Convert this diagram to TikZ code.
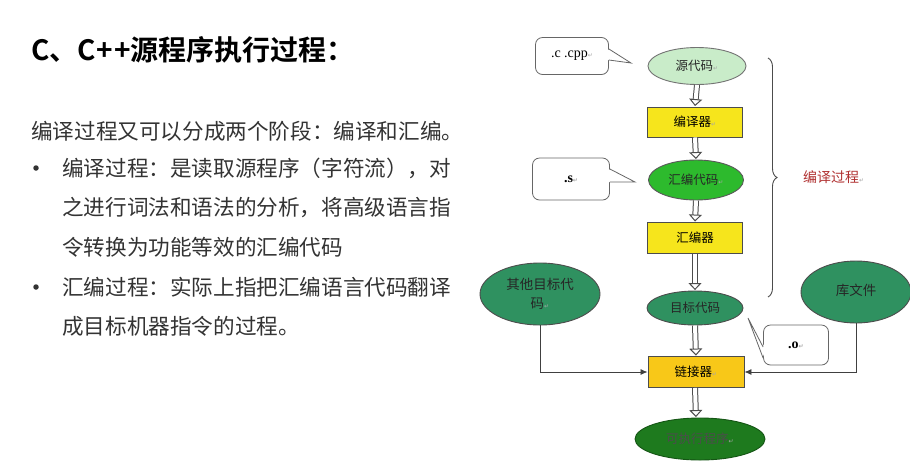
\documentclass[tikz,border=0pt]{standalone}
\usepackage{fontspec}
\newfontfamily\cjk{Noto Sans CJK SC}[BoldFont={Noto Sans CJK SC Bold}]
\newfontfamily\serifx{Liberation Serif}
\newfontfamily\dvs{DejaVu Sans}
\usetikzlibrary{shapes.geometric,arrows.meta,decorations.pathreplacing}
\definecolor{lgreen}{HTML}{C9ECC9}
\definecolor{bgreen}{HTML}{2DBA2D}
\definecolor{sgreen}{HTML}{2F9160}
\definecolor{dgreen}{HTML}{1E7A1E}
\definecolor{yel}{HTML}{F6E51C}
\definecolor{oyel}{HTML}{F8C818}
\definecolor{bodytxt}{HTML}{333333}
\definecolor{redlab}{HTML}{B03030}
\newcommand{\pmark}{\textcolor{gray!70}{\dvs\fontsize{6}{6}\selectfont ↵}}
\begin{document}
\begin{tikzpicture}[x=1pt,y=-1pt,
  body/.style={anchor=west, inner sep=0pt, text=bodytxt, font=\cjk\fontsize{21.6}{24}\selectfont},
  bul/.style={circle, fill=bodytxt, inner sep=0pt, minimum size=5.5pt},
  ell/.style={ellipse, inner sep=0pt, line width=0.9pt, font=\cjk\fontsize{12.5}{15}\selectfont, text=black!85},
  boxn/.style={rectangle, draw=black!70, line width=0.9pt, inner sep=0pt, minimum width=95pt, minimum height=30pt, font=\cjk\fontsize{12.5}{15}\selectfont},
  bubble/.style={rectangle, rounded corners=7pt, draw=gray!80!black, line width=0.8pt, fill=white, inner sep=0pt},
  hol/.style={draw=gray!60!black, double=white, double distance=4pt, line width=1pt,
     -{Triangle[open, length=7pt, width=13pt, line width=1pt]}, shorten >=0.5pt},
  link/.style={draw=black!75, line width=0.8pt, -{Latex[length=7pt, width=6pt]}}
]
\useasboundingbox (0,0) rectangle (910,467);
\fill[white] (0,0) rectangle (910,467);

% ---------- left text ----------
\node[anchor=west, inner sep=0pt, font=\cjk\bfseries\fontsize{28}{32}\selectfont] (title) at (31,50) {C、C{\kern1pt}+{\kern1pt}+源程序执行过程：};
\node[body] (p0) at (31,131) {编译过程又可以分成两个阶段：编译和汇编。};
\node[bul] (bu1) at (36,168) {};
\node[body] (l1) at (62,168) {编译过程：是读取源程序（字符流），对};
\node[body] (l2) at (62,208) {之进行词法和语法的分析，将高级语言指};
\node[body] (l3) at (62,247) {令转换为功能等效的汇编代码};
\node[bul] (bu2) at (36,287) {};
\node[body] (l4) at (62,287) {汇编过程：实际上指把汇编语言代码翻译};
\node[body] (l5) at (62,326) {成目标机器指令的过程。};

% ---------- diagram nodes ----------
\node[ell, fill=lgreen, draw=black!55, minimum width=98pt, minimum height=37pt] (src) at (697,66) {源代码\pmark};
\node[boxn, fill=yel] (cmp) at (695,122) {编译器\pmark};
\node[ell, fill=bgreen, draw=black!65, minimum width=95pt, minimum height=40pt] (asmc) at (696,180) {汇编代码\pmark};
\node[boxn, fill=yel, minimum height=31pt] (asm) at (695,238) {汇编器};
\node[ell, fill=sgreen, draw=black!70, minimum width=96pt, minimum height=34pt] (obj) at (695,308) {目标代码};
\node[ell, fill=sgreen, draw=black!70, minimum width=120pt, minimum height=62pt, align=center, font=\cjk\fontsize{13.5}{19}\selectfont] (oth) at (540,294) {其他目标代\\码\pmark};
\node[ell, fill=sgreen, draw=black!70, minimum width=110pt, minimum height=62pt, font=\cjk\fontsize{13.5}{16}\selectfont] (lib) at (856,292) {\raisebox{5pt}{库文件}};
\node[boxn, fill=oyel, minimum width=96pt, minimum height=31pt] (lnk) at (696,372) {链接器\pmark};
\node[ell, fill=dgreen, draw=dgreen!70!black, minimum width=130pt, minimum height=42pt, text=black!70] (exe) at (700,439) {可执行程序\pmark};

% ---------- hollow arrows ----------
\draw[hol] (src.south) -- (cmp.north);
\draw[hol] (cmp.south) -- (asmc.north);
\draw[hol] (asmc.south) -- (asm.north);
\draw[hol] (asm.south) -- (obj.north);
\draw[hol] (obj.south) -- (lnk.north);
\draw[hol] ([xshift=-1pt]lnk.south) -- (exe.north -| lnk.south);

% ---------- linker inputs ----------
\draw[link] (oth.south) |- (lnk.west);
\draw[link] (lib.south) |- (lnk.east);

% ---------- callouts ----------
\node[bubble, minimum width=73pt, minimum height=37pt, font=\serifx\fontsize{14}{16}\selectfont] (bc) at (572,56) {.c .cpp\pmark};
\coordinate (bctip) at (631,63);
\fill[white] ([xshift=-1.5pt,yshift=-4pt]bc.east) -- (bctip) -- ([xshift=-1.5pt,yshift=7pt]bc.east) -- cycle;
\draw[gray!80!black, line width=0.8pt] ([yshift=-4pt]bc.east) -- (bctip) -- ([yshift=7pt]bc.east);

\node[bubble, minimum width=77pt, minimum height=42pt, font=\serifx\bfseries\fontsize{14}{16}\selectfont] (bs) at (571,179) {\raisebox{-6pt}{.s\pmark}};
\coordinate (bstip) at (635,182);
\fill[white] ([xshift=-1.5pt,yshift=-3pt]bs.east) -- (bstip) -- ([xshift=-1.5pt,yshift=10pt]bs.east) -- cycle;
\draw[gray!80!black, line width=0.8pt] ([yshift=-3pt]bs.east) -- (bstip) -- ([yshift=10pt]bs.east);

\node[bubble, minimum width=65pt, minimum height=40pt, font=\serifx\bfseries\fontsize{14}{16}\selectfont] (bo) at (796,345) {\raisebox{-5pt}{.o\pmark}};
\coordinate (botip) at (748,318);
\fill[white] ([xshift=1.5pt,yshift=-13pt]bo.west) -- (botip) -- ([xshift=1.5pt,yshift=-2pt]bo.west) -- cycle;
\draw[gray!80!black, line width=0.8pt] ([yshift=-13pt]bo.west) -- (botip) -- ([yshift=-2pt]bo.west);

% ---------- brace ----------
\coordinate (brtop) at (768,58);
\coordinate (brbot) at (768,297);
\draw[black!70, line width=0.9pt, decorate, decoration={brace, amplitude=9pt}] (brtop) -- (brbot);
\node[anchor=west, inner sep=0pt, text=redlab, font=\cjk\fontsize{14}{16}\selectfont] (blab) at (803,177) {编译过程\pmark};
\end{tikzpicture}
\end{document}
